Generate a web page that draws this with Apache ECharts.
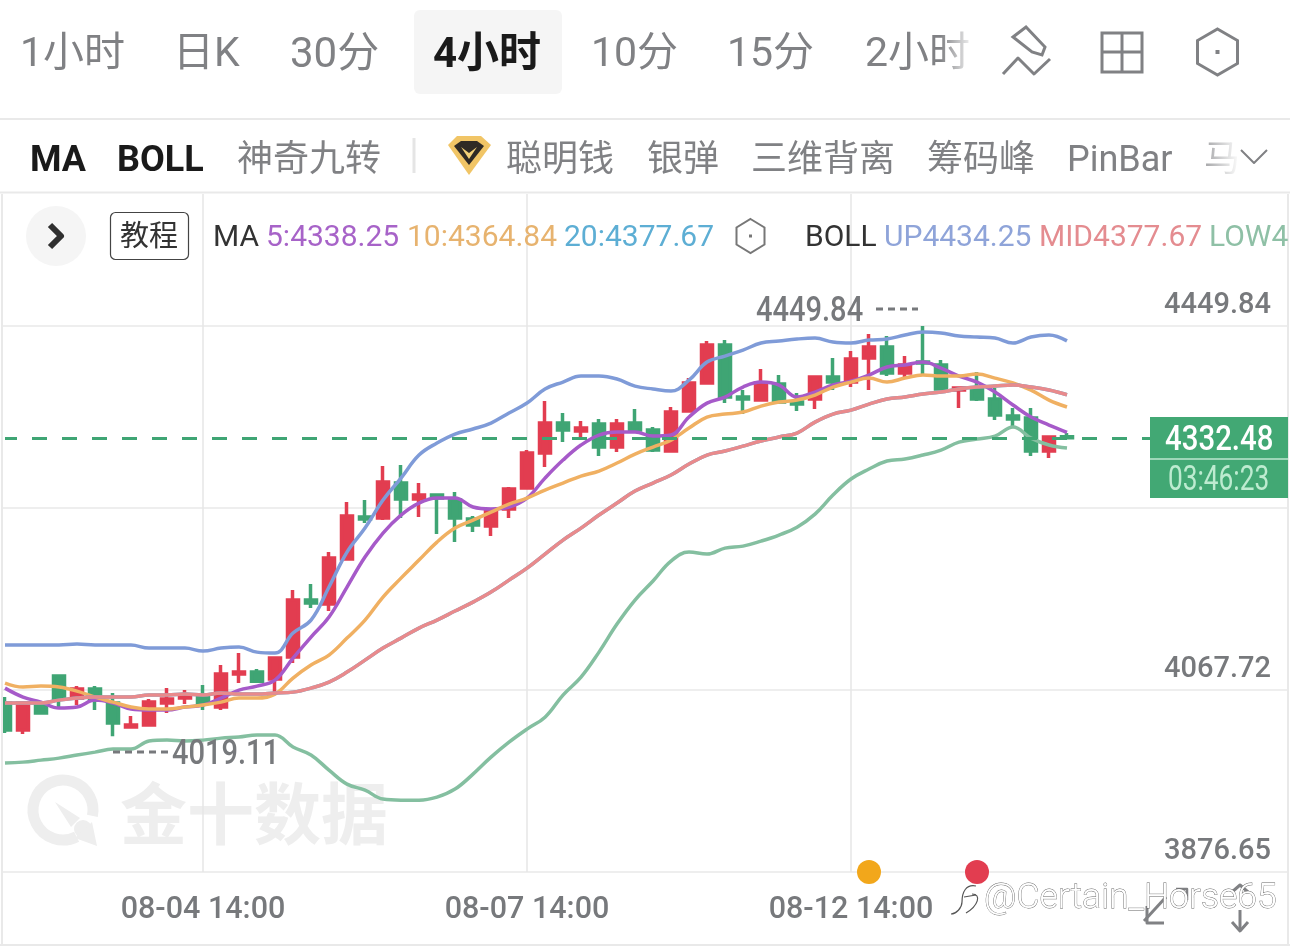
<!DOCTYPE html>
<html><head><meta charset="utf-8"><style>html,body{margin:0;padding:0;background:#fff}#c{width:1290px;height:951px}</style>
<script src="https://cdn.jsdelivr.net/npm/echarts@6/dist/echarts.min.js"></script></head><body><div id="c"></div><script>
const opens=[4054,4025.6,4054,4082.3,4059.2,4068.7,4054,4028.8,4030.9,4054,4059.2,4060.3,4049.8,4084.4,4086.5,4079.2,4102.3,4162.1,4157.9,4205.2,4249.3,4248.2,4285,4268.2,4272.4,4267.1,4247.2,4239.8,4257.7,4279.7,4316.5,4348,4339.6,4346.9,4322.8,4348,4340.6,4318.6,4360.6,4390,4429.9,4375.3,4372.1,4388.9,4370,4373.2,4396.3,4391,4416.2,4427.8,4400.5,4412,4408.9,4382.6,4384.7,4373.2,4355.3,4353.2,4318.6,4333.5];
const closes=[4025.6,4054,4043.5,4058.2,4068.7,4057.1,4033,4030.9,4055,4058.2,4062.4,4054,4084.4,4086.5,4077,4101.2,4162.1,4159,4206.2,4250.3,4247.2,4286,4268.2,4272.4,4269.2,4248.2,4240.9,4256.6,4278.7,4316.5,4348,4340.6,4342.7,4322.8,4346.9,4340.6,4319.6,4359.5,4390,4429.9,4375.3,4373.2,4390,4370,4367.9,4396.3,4391,4415.2,4427.8,4400.5,4408.9,4411,4383.7,4384.7,4373.2,4356.4,4352.2,4318.6,4333.3,4332.48];
const lows=[4022.5,4021.4,4043.5,4049.8,4051.9,4046.6,4019.11,4027.7,4030.9,4043.5,4052.9,4046.6,4046.6,4075,4075,4063.4,4096,4153.7,4150.6,4205.2,4243,4246.1,4248.2,4249.3,4231.4,4223,4233.5,4229.3,4248.2,4279.7,4301.8,4328,4330.1,4313.3,4317.5,4340.6,4317.5,4318.6,4360.6,4388.9,4369,4357.4,4372.1,4370,4360.6,4362.7,4382.6,4385.8,4382.6,4397.3,4396.3,4398.4,4383.7,4363.7,4371.1,4351.1,4343.8,4313.3,4311.2,4331.2];
const highs=[4060.3,4054,4054,4082.3,4071.8,4071.8,4064.5,4040.3,4058.2,4069.7,4067.6,4072.9,4093.9,4106.5,4089.7,4101.2,4172.6,4178.9,4212.5,4265,4267.1,4302.8,4303.9,4285,4273.4,4275.5,4250.3,4258.7,4280.8,4319.6,4371.1,4358.5,4350.1,4352.2,4352.2,4362.7,4343.8,4364.8,4395.2,4434.1,4435.1,4382.6,4404.7,4398.4,4379.5,4397.3,4416.2,4423.6,4441.4,4439.3,4418.3,4449.84,4414.1,4385.8,4401.5,4384.7,4363.7,4363.7,4333.3,4337.5];
const ma5=[4069.7,4060.3,4055,4048.7,4049.8,4057.1,4054,4047.7,4046.6,4046.6,4049.8,4051.9,4059.2,4067.6,4071.8,4078.1,4101.2,4123.3,4144.3,4175.8,4207.3,4232.5,4251.4,4264,4269.2,4269.2,4259.8,4257.7,4259.8,4269.2,4290.2,4309.1,4324.9,4335.4,4338.5,4338.5,4334.3,4335.4,4354.3,4368.9,4375.3,4385.8,4391,4387.9,4375.3,4380.5,4387.9,4392,4398.4,4406.8,4408.9,4412,4405.7,4397.3,4391,4380.5,4366.9,4354.3,4345.9,4338.25];
const ma10=[4075,4070.8,4071.8,4070.8,4066.6,4060.3,4055,4049.8,4047.7,4047.7,4049.8,4051.9,4055,4059.2,4059.2,4063.4,4080.2,4093.9,4104.4,4122.2,4141.1,4165.3,4185.2,4204.1,4223,4237.7,4246.1,4254.5,4262.9,4269.2,4277.6,4285,4292.3,4297.6,4306,4315.4,4322.8,4330.1,4342.7,4354.3,4357.4,4359.5,4365.8,4370,4372.1,4377.4,4385.8,4391,4395.2,4391,4395.2,4398.4,4397.3,4397.3,4399.4,4395.2,4390,4382.6,4372.1,4364.84];
const bollMid=[4054,4054,4054,4057.1,4059.2,4060.3,4060.3,4060.3,4062.4,4062.4,4063.4,4062.4,4064.5,4063.4,4063.4,4064.5,4065.5,4069.7,4076,4086.5,4099.1,4111.7,4122.2,4132.7,4141.1,4150.6,4160,4170.5,4183.1,4195.7,4210.4,4225.1,4237.7,4251.4,4264,4276.6,4285,4293.4,4304.9,4314.4,4318.6,4323.8,4329.1,4333.3,4337.5,4349,4357.4,4361.6,4367.9,4373.2,4375.3,4378.4,4380.5,4383.7,4385.8,4386.8,4387.9,4385.8,4382.6,4377.67];
const ma20=bollMid;
const bollUp=[4114.9,4114.9,4114.9,4114.9,4115.9,4114.9,4114.9,4114.9,4111.7,4111.7,4111.7,4108.6,4111.7,4112.8,4107.5,4106.5,4127.5,4141.1,4175.8,4212.5,4237.7,4267.1,4290.2,4314.4,4327,4336.4,4341.7,4348,4358.5,4369,4383.7,4391,4397.3,4397.3,4394.2,4386.8,4383.7,4381.6,4393,4412,4418.3,4424.6,4432,4434.1,4436.2,4437.2,4433,4432,4435.1,4436.2,4440.4,4443.5,4442.5,4439.3,4438.3,4437.2,4432,4438.3,4440.4,4434.25];
const bollLow=[3991,3992,3994.1,3996.2,3999.4,4002.5,4005.7,4005.7,4014.1,4015.1,4014.1,4015.1,4017.2,4018.3,4020.4,4020.4,4007.8,3999.4,3983.6,3968.9,3962.6,3953.2,3952.1,3952.1,3955.3,3963.7,3979.4,3997.2,4013,4026.7,4039.2,4062.4,4081.2,4107.5,4136.9,4162.1,4182.1,4203.1,4212.5,4210.4,4216.7,4218.8,4224,4230.4,4238.7,4252.4,4272.4,4289.2,4299.7,4308.1,4310.2,4314.4,4319.6,4328,4331.2,4334.3,4343.8,4332.2,4324.9,4321.7];
const yTickLabels=[3876.65,4067.72,4449.84];
const yGridValues=[3876.65,4067.72,4258.78,4449.84];
const xTickIndex=[11,29,47];
const xTickLabels=['08-04 14:00','08-07 14:00','08-12 14:00'];
const lastPrice=4332.48;
const countdown='03:46:23';
const highLabel='4449.84';
const lowLabel='4019.11';
const eventDots=[[48,3876.65,'#F2A71B'],[54,3876.65,'#E23D50']];
const barCount=72;
const categories=Array.from({length:barCount},(_,i)=>String(i));

const NUM='Roboto,sans-serif';
const UI='Roboto,"Noto Sans CJK SC",sans-serif';
const GREY='#808184';
const LG='#e9e9e9';
const txt=(text,x,y,size,fill,extra)=>({type:'text',z:60,x,y,style:Object.assign({text,fontSize:size,fill,fontFamily:UI,verticalAlign:'middle',align:'left'},extra||{})});
const numTxt=(text,x,y,fill,sx,w)=>({type:'text',z:60,x,y,scaleX:sx,style:{text,fontSize:35,fill,fontFamily:NUM,fontWeight:w,verticalAlign:'middle',align:'left'}});
const hline=(x1,y1,x2,y2,stroke,w,z)=>({type:'line',z:z||60,shape:{x1,y1,x2,y2},style:{stroke,lineWidth:w||2}});
const poly=(points,stroke,w,z)=>({type:'polyline',z:z||60,shape:{points},style:{stroke,fill:null,lineWidth:w||3,lineJoin:'round'}});
const gon=(points,style,z)=>({type:'polygon',z:z||60,shape:{points},style});
const hex=(cx,cy,rx,ry)=>[[cx,cy-ry],[cx+rx,cy-ry/2],[cx+rx,cy+ry/2],[cx,cy+ry],[cx-rx,cy+ry/2],[cx-rx,cy-ry/2]];
const curve=(x1,y1,cpx1,cpy1,cpx2,cpy2,x2,y2)=>({type:'bezierCurve',z:70,shape:{x1,y1,cpx1,cpy1,cpx2,cpy2,x2,y2},style:{stroke:'#555',fill:null,lineWidth:1.2}});
const graphics=[
 {type:'rect',z:50,shape:{x:0,y:0,width:3,height:951},style:{fill:'#fff'}},
 {type:'rect',z:50,shape:{x:1288,y:0,width:2,height:951},style:{fill:'#fff'}},
 hline(2,194,2,945,LG,2,55),hline(1288,194,1288,945,LG,2,55),
 hline(0,119,1290,119,LG,2),hline(0,192.5,1290,192.5,LG,2),hline(0,945,1290,945,LG,2),
 ...[326,508,690,872].flatMap(y=>[hline(3,y,5,y,'#eeeeee',2,1),hline(1283,y,1288,y,'#eeeeee',2,1)]),
 {type:'rect',z:59,shape:{x:414,y:10,width:148,height:84,r:6},style:{fill:'#f5f5f5'}},
 txt('1小时',20,56,41,GREY),txt('日K',173,56,41,GREY),txt('30分',290,56,42,GREY),
 txt('4小时',433,56,42,'#1a1a1a',{fontWeight:'bold'}),txt('10分',591,56,41,GREY),txt('15分',727,56,41,GREY),txt('2小时',865,56,41,GREY),
 {type:'rect',z:61,shape:{x:940,y:20,width:35,height:60},style:{fill:{type:'linear',x:0,y:0,x2:1,y2:0,colorStops:[{offset:0,color:'rgba(255,255,255,0)'},{offset:1,color:'#fff'}]}}},
 gon([[1013,37],[1026,27],[1045,47],[1042,55],[1032,52]],{stroke:'#808184',fill:null,lineWidth:3}),
 poly([[1003,74],[1018,58],[1034,74],[1050,59]],'#808184',3),
 {type:'rect',z:60,shape:{x:1102,y:33,width:40,height:39},style:{stroke:'#808184',fill:null,lineWidth:3}},
 hline(1122,33,1122,72,'#808184',3),hline(1102,52,1142,52,'#808184',3),
 gon(hex(1217.5,52,20,23),{stroke:'#808184',fill:null,lineWidth:3}),
 {type:'rect',z:60,shape:{x:1215.5,y:50,width:4,height:4},style:{fill:'#808184'}},
 txt('MA',30,162,36,'#1a1a1a',{fontWeight:'bold'}),txt('BOLL',117,162,36,'#1a1a1a',{fontWeight:'bold'}),
 txt('神奇九转',237,162,36,GREY),hline(414,138,414,173,'#e5e5e5',3),
 gon([[448,145],[457,136],[481,136],[491,145],[469,175]],{fill:'#F1C566'}),
 gon([[454,146],[461,141],[477,141],[484,146],[469,165]],{fill:'#2f2a25'}),
 gon([[461,147],[469,153],[477,147],[469,159]],{fill:'#F3D077'}),
 txt('聪明钱',506,162,36,GREY),txt('银弹',647,162,36,GREY),txt('三维背离',751,162,36,GREY),txt('筹码峰',927,162,36,GREY),txt('PinBar',1067,162,36,GREY),
 txt('马',1204,162,36,GREY),
 {type:'rect',z:61,shape:{x:1195,y:135,width:45,height:50},style:{fill:{type:'linear',x:0,y:0,x2:1,y2:0,colorStops:[{offset:0,color:'rgba(255,255,255,0.1)'},{offset:1,color:'#fff'}]}}},
 poly([[1241,150],[1254,163],[1267,150]],'#808184',2),
 {type:'circle',z:60,shape:{cx:56,cy:236,r:30},style:{fill:'#f5f5f5'}},
 poly([[50,225],[61,236],[50,247]],'#2f2f2f',6),
 {type:'rect',z:60,shape:{x:110.5,y:212.5,width:78,height:47,r:5},style:{stroke:'#444',fill:'#fff',lineWidth:1.2}},
 txt('教程',120,239,29,'#333'),
 txt('MA',213,238,30,'#333'),txt('5:4338.25',266,238,30,'#A763C8'),txt('10:4364.84',407,238,30,'#E7B36F'),txt('20:4377.67',564,238,30,'#5DAED4'),
 gon(hex(750.5,236,14,17),{stroke:'#777',fill:null,lineWidth:2}),
 {type:'rect',z:60,shape:{x:749,y:234.5,width:3,height:3},style:{fill:'#777'}},
 txt('BOLL',805,238,30,'#333'),txt('UP4434.25',884,238,30,'#8FA4D9'),txt('MID4377.67',1039,238,30,'#E48C90'),txt('LOW4',1209,238,30,'#8FC0A6'),
 numTxt(highLabel,756,312,'#77797c',0.83,500),
 {type:'line',z:60,shape:{x1:876,y1:309,x2:918,y2:309},style:{stroke:'#77797c',lineWidth:3,lineDash:[7,5]}},
 numTxt(lowLabel,172,755,'#77797c',0.83,500),
 {type:'line',z:60,shape:{x1:113,y1:752,x2:170,y2:752},style:{stroke:'#77797c',lineWidth:3,lineDash:[7,5]}},
 {type:'rect',z:60,shape:{x:1150,y:417,width:138,height:81},style:{fill:'#42A874'}},
 hline(1150,459,1288,459,'#9ED7B9',2),
 numTxt(String(lastPrice),1165,441,'#fff',0.84,500),
 numTxt(countdown,1168,481,'#BDEBD0',0.75,400),
 {type:'arc',z:0,shape:{cx:63,cy:810,r:30,startAngle:1.1,endAngle:1.1+Math.PI*2-0.9},style:{stroke:'#eeeeee',fill:null,lineWidth:11}},
 gon([[55,802],[80,818],[71,827]],{fill:'#eeeeee'},0),
 gon([[75,838],[92,822],[97,846]],{fill:'#eeeeee'},0),
 {type:'circle',z:0,shape:{cx:83,cy:829,r:9},style:{fill:'#eeeeee'}},
 {type:'text',z:0,x:120,y:814,style:{text:'金十数据',fontSize:67,fontWeight:'bold',fill:'#eeeeee',fontFamily:'"Noto Sans CJK SC"',verticalAlign:'middle'}},
 poly([[1144,921],[1166,897]],'#808184',3),poly([[1147,906],[1147,923],[1164,923]],'#808184',3),
 poly([[1176,889],[1187,889],[1187,900]],'#808184',2.5),
 hline(1240,910,1240,930,'#808184',3),poly([[1232,922],[1240,931],[1248,922]],'#808184',3),
 poly([[1232,892],[1240,885],[1248,892]],'#808184',3),
 curve(976,886,966,884,962,892,962,902),curve(962,902,962,908,956,914,951,914),curve(972,894,982,894,978,906,966,913),
 hline(964,897,976,895,'#555',1.2,70),
 {type:'text',z:70,x:984,y:899,style:{text:'@Certain_Horse65',fontSize:35.5,fontWeight:300,fontFamily:'Roboto,sans-serif',fill:'#fff',stroke:'#666',lineWidth:0.8,verticalAlign:'middle'}}
];
const line=(name,data,color,w,z)=>({name,type:'line',data,symbol:'none',smooth:0.4,z,lineStyle:{color,width:w},silent:true});
const candle=opens.map((o,i)=>[o,closes[i],lows[i],highs[i]]);
const chart=echarts.init(document.getElementById('c'));
chart.setOption({
 animation:false,backgroundColor:'#fff',
 grid:{left:5,width:1278,top:194,height:678,containLabel:false},
 xAxis:{type:'category',data:categories,boundaryGap:false,axisTick:{show:false},splitLine:{show:false},
  axisLine:{show:false},
  axisLabel:{interval:0,hideOverlap:false,margin:23,fontSize:30.5,fontWeight:500,color:'#77797c',fontFamily:NUM,
   formatter:(v,i)=>{const k=xTickIndex.indexOf(i);return k<0?'':xTickLabels[k];}}},
 yAxis:{type:'value',position:'right',min:3876.65,max:4588.45,splitLine:{show:false},axisLine:{show:false},axisTick:{show:false},
  axisLabel:{inside:true,margin:12,fontSize:29,fontWeight:500,color:'#77797c',fontFamily:NUM,align:'right',verticalAlign:'bottom',lineHeight:40,customValues:yTickLabels,
   formatter:v=>v.toFixed(2)}},
 series:[
  {name:'grid',type:'line',data:[],z:1,silent:true,markLine:{silent:true,symbol:'none',z:1,animation:false,label:{show:false},
    data:[...yGridValues.map(v=>({yAxis:v,lineStyle:{color:'#eeeeee',width:2,type:'solid'}})),
          ...xTickIndex.map(i=>({xAxis:String(i),lineStyle:{color:'#e6e6e6',width:1.5,type:'solid'}}))]}},
  {name:'K',type:'candlestick',data:candle,barWidth:11.5,clip:false,z:2,silent:true,itemStyle:{color:'#E23D50',color0:'#3FA574',borderColor:'#E23D50',borderColor0:'#3FA574',borderWidth:3.5}},
  line('MA5',ma5,'#A65AC9',3.5,3),line('MA10',ma10,'#F0B062',3.5,3),line('MA20',ma20,'#5DAED4',3.5,3),
  line('UP',bollUp,'#7F9BD8',3.5,3),line('MID',bollMid,'#E98A8C',3.5,3),line('LOW',bollLow,'#84BFA0',3.5,3),
  {name:'price',type:'line',data:[],z:4,silent:true,markLine:{silent:true,symbol:'none',z:4,animation:false,label:{show:false},
    data:[{yAxis:lastPrice,lineStyle:{color:'#3FA574',width:3,type:[15,15],dashOffset:3}}]}},
  {name:'events',type:'scatter',clip:false,z:6,silent:true,symbolSize:24,data:eventDots.map(d=>({value:[d[0],d[1]],itemStyle:{color:d[2],opacity:1}}))}
 ],
 graphic:{elements:graphics}
});
</script></body></html>
